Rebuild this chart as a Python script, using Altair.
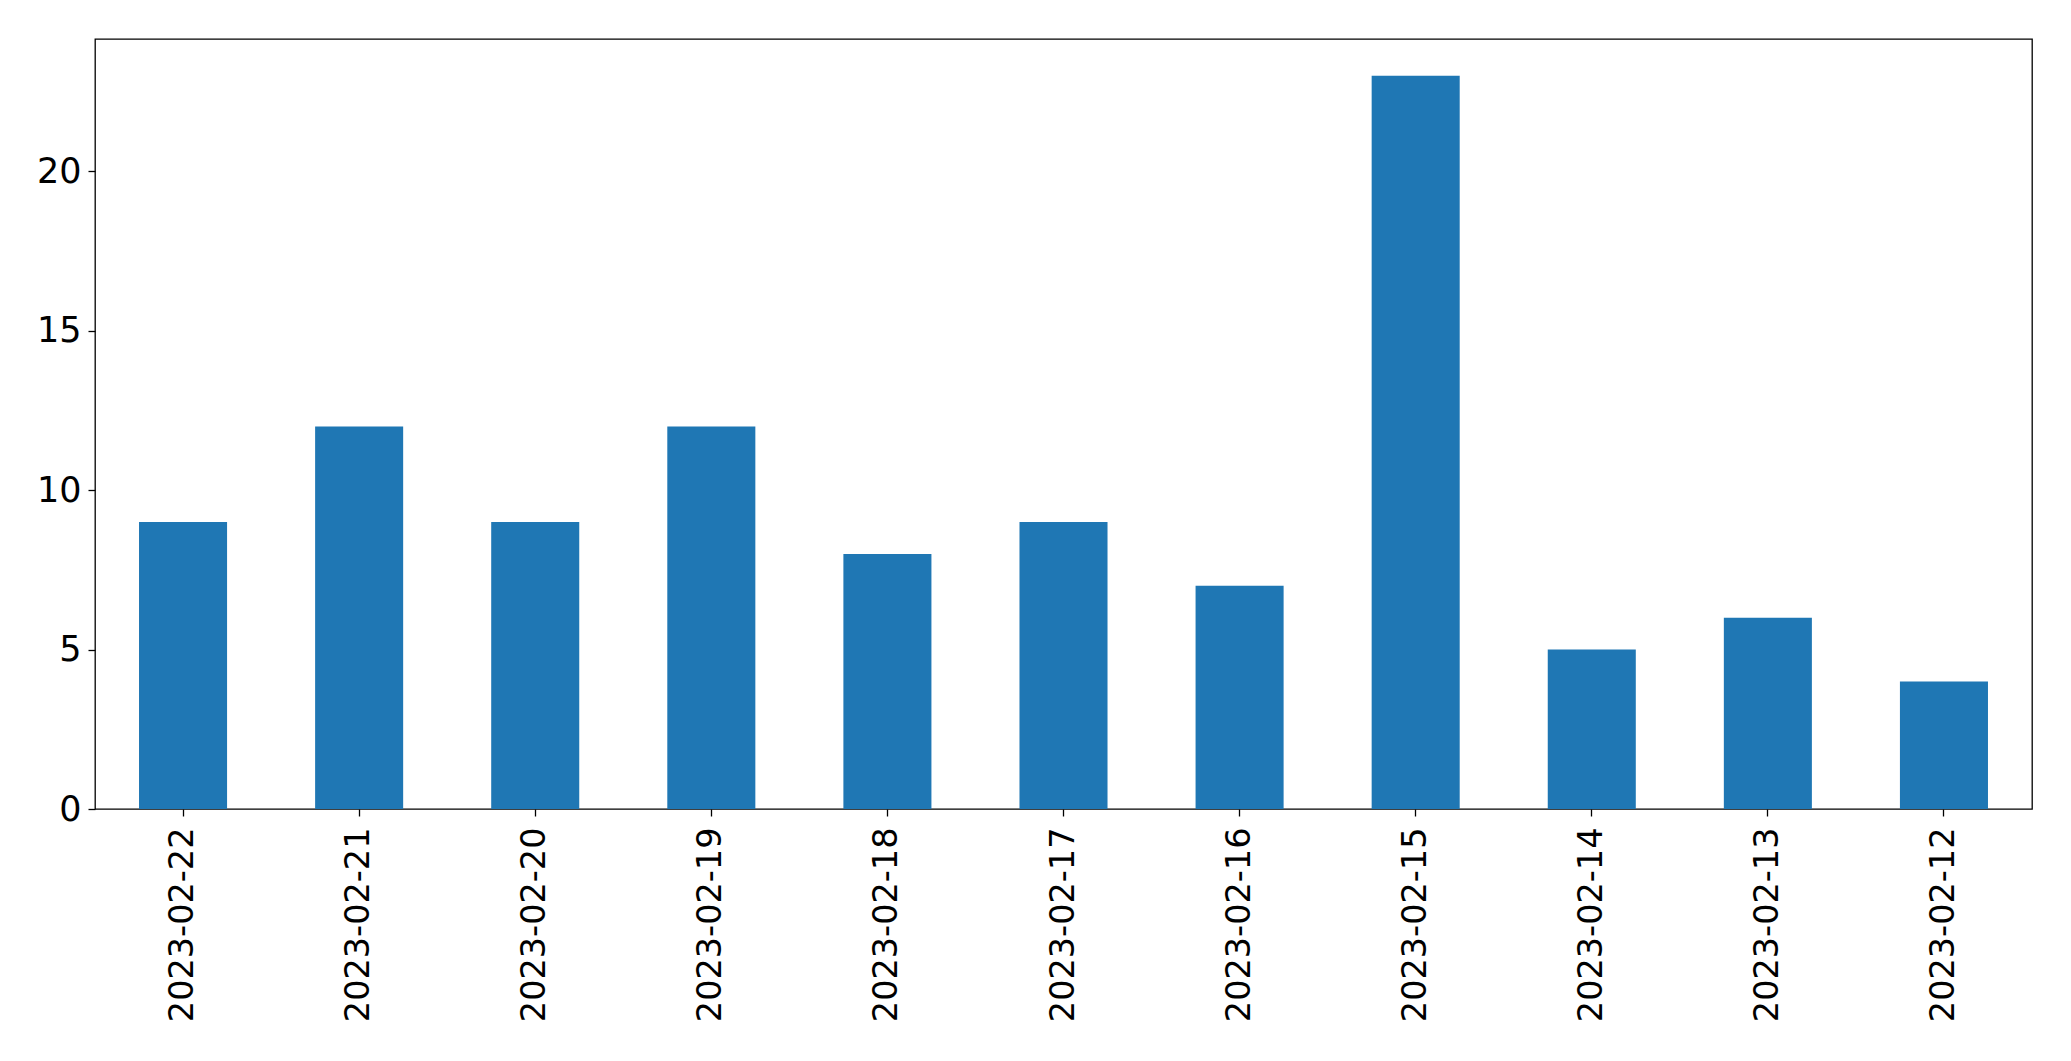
import altair as alt
import pandas as pd

dates = ["2023-02-22", "2023-02-21", "2023-02-20", "2023-02-19", "2023-02-18",
         "2023-02-17", "2023-02-16", "2023-02-15", "2023-02-14", "2023-02-13",
         "2023-02-12"]
counts = [9, 12, 9, 12, 8, 9, 7, 23, 5, 6, 4]
y_ticks = [0, 5, 10, 15, 20]

df = pd.DataFrame({"date": dates, "count": counts})

FONT = "DejaVu Sans"
FSX = 33.5
FSY = 35

chart = alt.Chart(df).mark_bar(color="#1f77b4").encode(
    x=alt.X("date:N", sort=dates,
            scale=alt.Scale(paddingInner=0.5, paddingOuter=0.25),
            axis=alt.Axis(title=None, labelAngle=270, labelAlign="right",
                          labelBaseline="middle", labelPadding=11, labelLimit=0,
                          tickSize=7, tickColor="black", tickWidth=1.3,
                          domain=False, labelFont=FONT, labelFontSize=FSX,
                          labelColor="black")),
    y=alt.Y("count:Q", scale=alt.Scale(domain=[0, 24.15], nice=False, zero=True),
            axis=alt.Axis(title=None, values=y_ticks, grid=False, domain=False,
                          tickSize=7, tickColor="black", tickWidth=1.3,
                          labelPadding=7, labelFont=FONT, labelFontSize=FSY,
                          labelColor="black")),
).properties(
    width=1937, height=770,
    autosize=alt.AutoSizeParams(type="none"),
    padding={"left": 87, "top": 31, "right": 30, "bottom": 230},
).configure(
    background="white"
).configure_view(
    stroke="black", strokeWidth=1.3, fill="white"
)

chart.save("out.html", embed_options={"renderer": "svg", "actions": False})
